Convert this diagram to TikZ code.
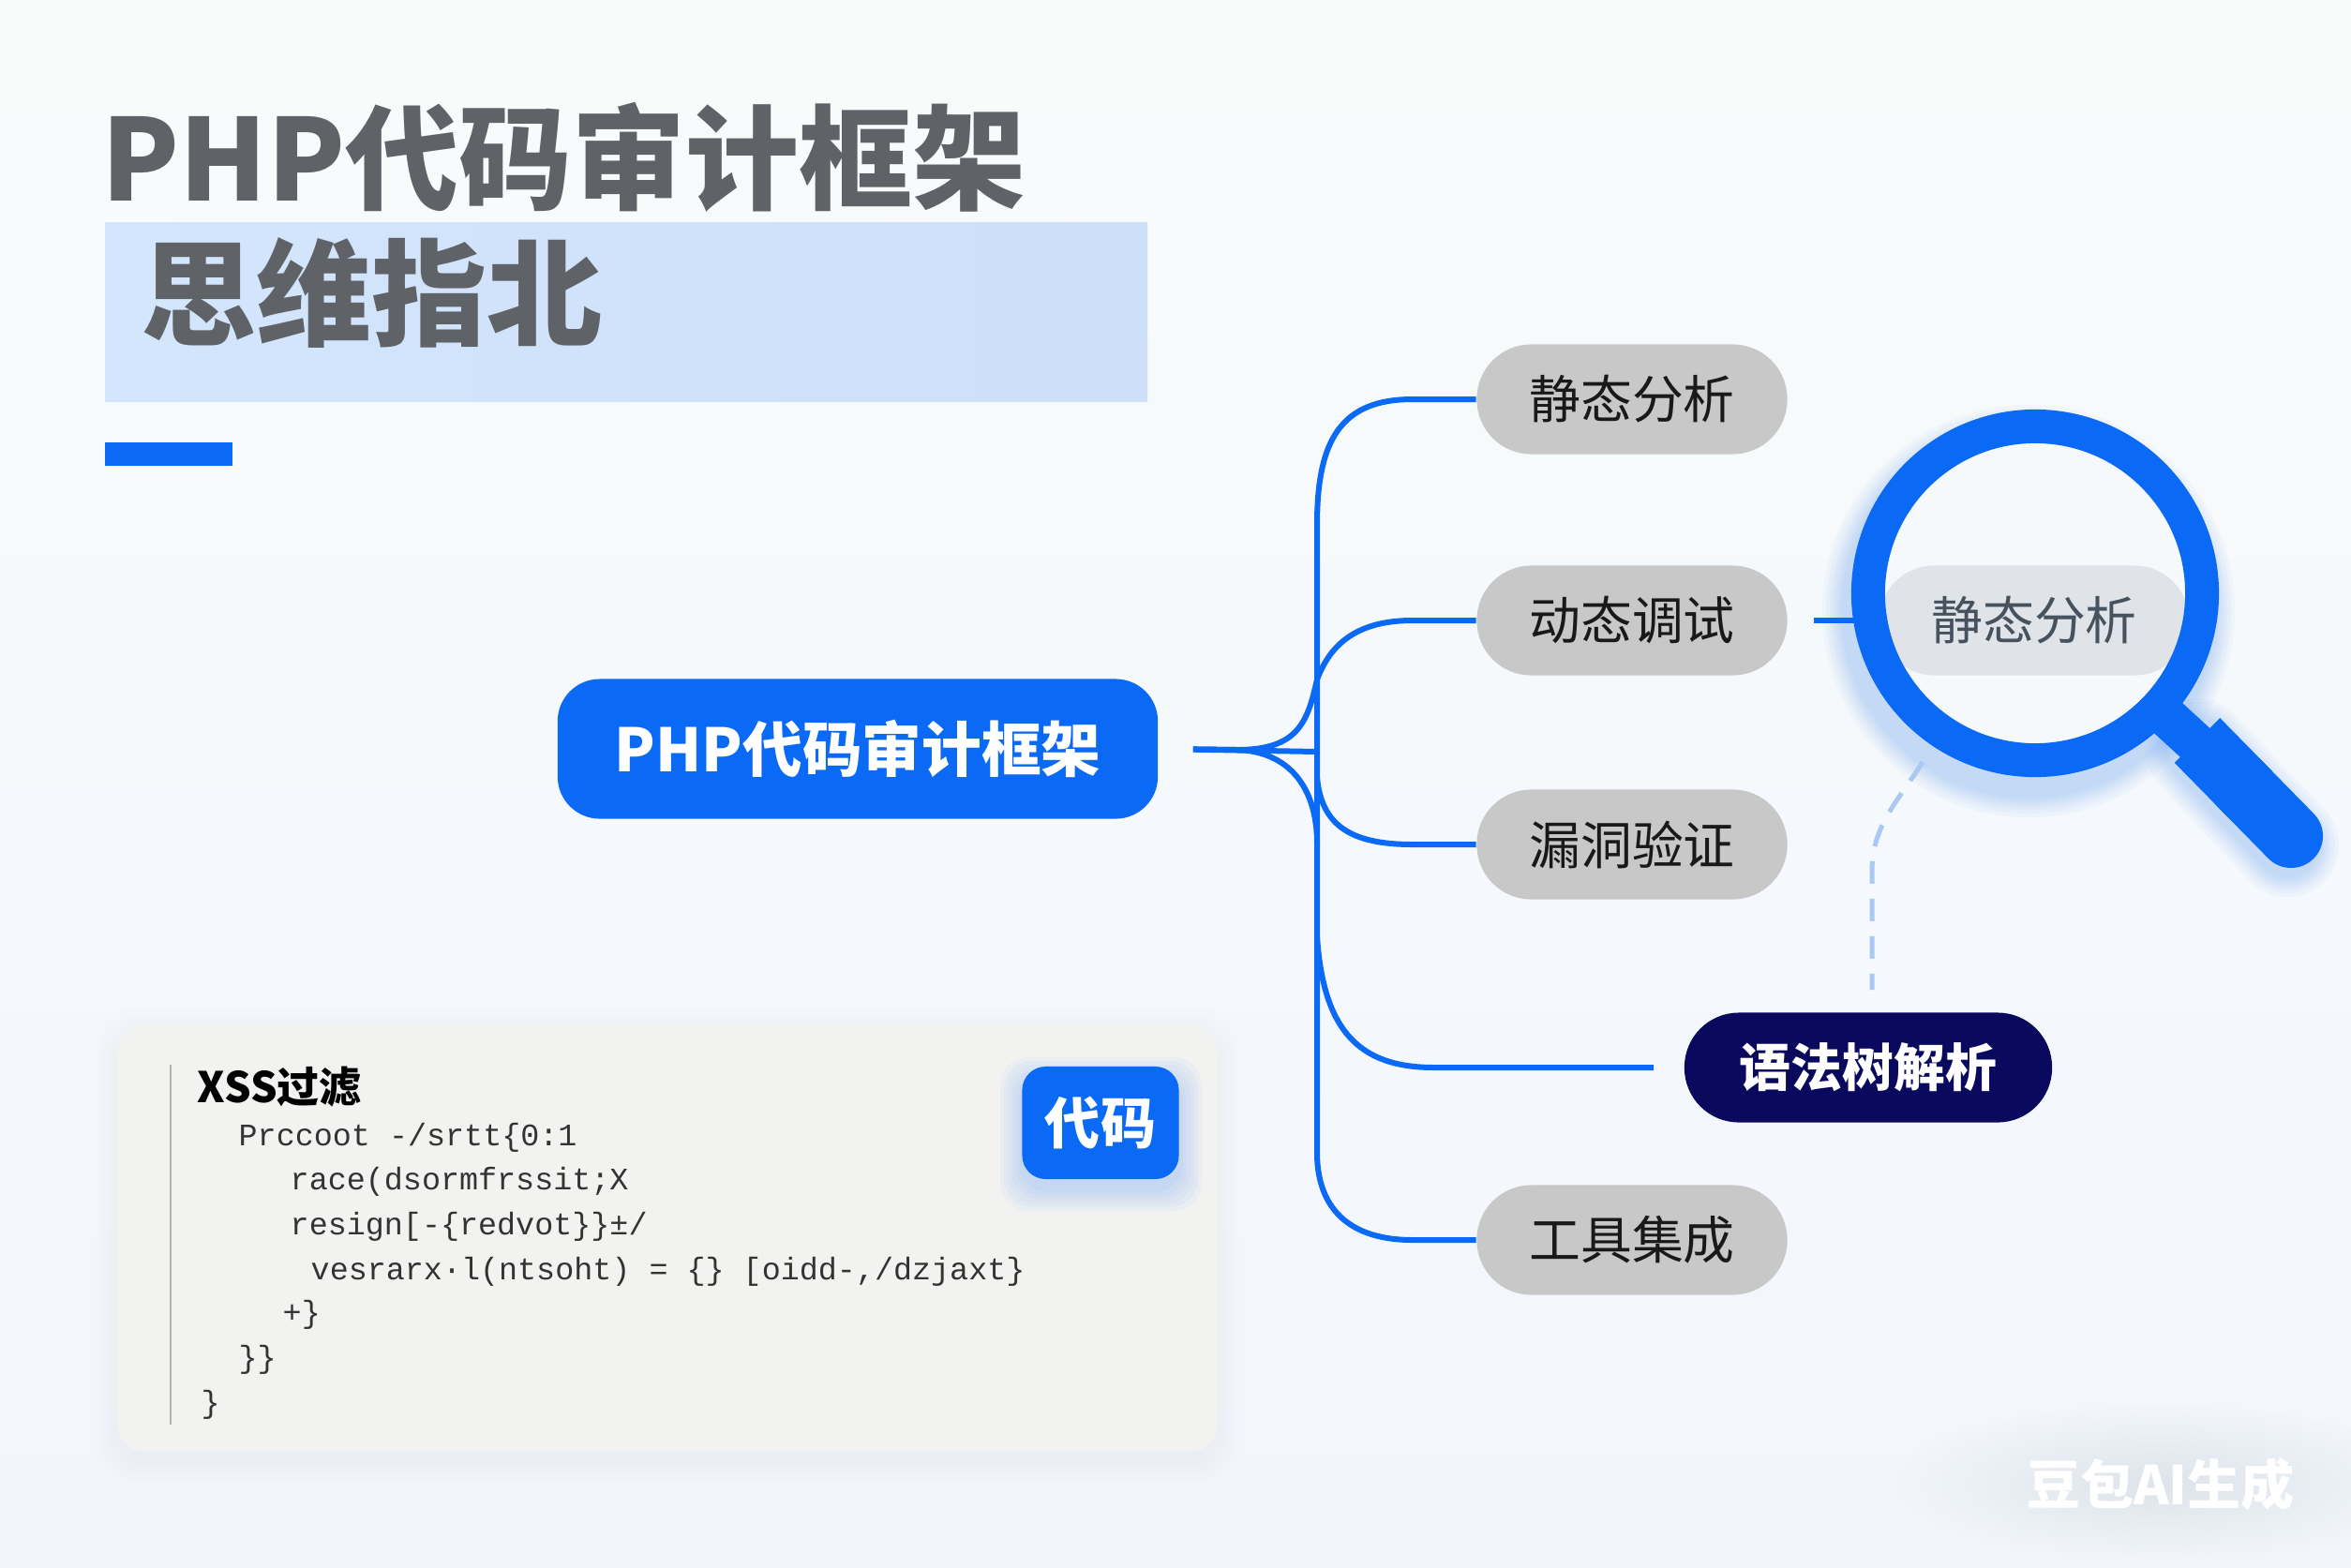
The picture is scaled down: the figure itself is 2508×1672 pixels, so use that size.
\documentclass[tikz,border=0pt]{standalone}
\usepackage{fontspec}
\setmainfont{Noto Sans CJK SC}
\newfontfamily\codefont{Liberation Mono}
\definecolor{accent}{HTML}{0A6AF5}
\definecolor{navy}{HTML}{09095E}
\definecolor{pillgrey}{HTML}{C8C8C9}
\definecolor{lenspill}{HTML}{E0E3E7}
\definecolor{lenstext}{HTML}{47525F}
\definecolor{titlegrey}{HTML}{5F6368}
\definecolor{softblue}{HTML}{D3E6FC}
\definecolor{softblueb}{HTML}{CDDFF9}
\definecolor{dashblue}{HTML}{A9C8F2}
\definecolor{cardgrey}{HTML}{F2F2F1}
\definecolor{bgtop}{HTML}{F9FBFB}
\definecolor{bgmid}{HTML}{F6F9FC}
\definecolor{bgbot}{HTML}{F2F6FC}
\definecolor{smudge}{HTML}{DDE3E9}
\tikzset{
  pill/.style={fill=pillgrey, text=black!90, rounded corners=0.58cm, minimum width=3.31cm, minimum height=1.17cm, inner sep=0pt, font=\fontsize{15.6}{18}\selectfont},
  branch/.style={draw=accent, line width=0.06cm},
  glow/.style={accent, opacity=0.03},
  bigtitle/.style={text=titlegrey, anchor=west, inner sep=0pt, font=\fontsize{34.4}{40}\selectfont\bfseries},
  codeline/.style={anchor=west, inner sep=0pt, text=black!80, font=\codefont\fontsize{9.5}{11}\selectfont}
}

\begin{document}
\begin{tikzpicture}[x=0.01cm, y=-0.01cm]
    \useasboundingbox (0,0) rectangle (2508,1672);
    \fill [top color=bgtop, middle color=bgmid, bottom color=bgbot] (0,0) rectangle (2508,1672);

    \fill [left color=softblue, right color=softblueb] (112,237) rectangle (1224,428);
    \fill [accent] (112,472) rectangle (248,497);
    \node [bigtitle] (title) at (108,168) {PHP代码审计框架};
    \node [bigtitle, font=\fontsize{35}{40}\selectfont\bfseries] (subtitle) at (150,312) {思维指北};

    \node [fill=accent, text=white, rounded corners=0.45cm, minimum width=6.4cm, minimum height=1.49cm, inner sep=0pt, font=\fontsize{18.1}{22}\selectfont\bfseries] (main) at (915,799) {PHP代码审计框架};

    \node [pill] (stat) at (1741,426) {静态分析};
    \node [pill] (dyn) at (1741,662) {动态调试};
    \node [pill] (vuln) at (1741,901) {漏洞验证};
    \node [pill] (tool) at (1741,1323) {工具集成};
    \node [pill, fill=navy, text=white, minimum width=3.92cm, font=\fontsize{15.6}{18}\selectfont\bfseries] (ast) at (1993,1139) {语法树解析};

    \foreach \w in {0.46,0.52,0.58,0.64,0.70,0.78,0.86} {
      \draw [glow, line width=\w cm] (2164,652) circle [radius=177];
      \draw [glow, line width=\w cm + 0.24cm, line cap=round] (2344,800) -- (2440,902);
    }
    \node [circle, fill=bgmid, minimum size=3.6cm, inner sep=0pt] (glass) at (2171,633) {};
    \node [pill, fill=lenspill, text=lenstext, minimum width=3.3cm] (zoomed) at (2170,662) {静态分析};

    \draw [branch] (stat.west) -- (1507,426) .. controls (1430,426) and (1405,470) .. (1405,560) -- (1405,1230) .. controls (1405,1280) and (1430,1323) .. (1507,1323) -- (tool.west);
    \draw [branch, shorten <=0.37cm] (main.east) -- (1320,800) .. controls (1385,800) and (1395,770) .. (1405,725) .. controls (1420,685) and (1450,662) .. (1507,662) -- (dyn.west);
    \draw [branch, shorten <=0.37cm] (main.east) -- (1320,800) .. controls (1375,802) and (1405,840) .. (1405,900);
    \draw [branch, shorten <=0.37cm] (main.east) -- (1405,802);
    \draw [branch] (vuln.west) -- (1507,901) .. controls (1440,901) and (1410,880) .. (1405,830);
    \draw [branch, shorten >=0.32cm] (1405,1000) .. controls (1412,1100) and (1450,1139) .. (1530,1139) -- (ast.west);
    \draw [branch, shorten <=0.28cm] (dyn.east) -- (zoomed.west);

    \coordinate (dashtop) at (2051,813);
    \coordinate (dashend) at (1997,1056);
    \draw [dashblue, line width=0.05cm, dash pattern=on 0.24cm off 0.16cm] (dashtop) .. controls (2025,855) and (1997,880) .. (1997,930) -- (dashend);

    \node [circle, draw=accent, line width=0.36cm, minimum size=3.56cm, inner sep=0pt] (lens) at (2171,633) {};
    \draw [accent, line width=0.44cm] (2290,745) -- (2350,800);
    \draw [accent, line width=0.68cm] (2344,790) -- (2400,847);
    \draw [accent, line width=0.68cm, line cap=round] (2390,837) -- (2444,892);

    \foreach \g in {3,6,9,12,15,18,21,24} {
      \fill [black, opacity=0.005, rounded corners=0.4cm] (125-\g,1094-\g+8) rectangle (1299+\g,1549+\g+8);
    }
    \node [fill=cardgrey, minimum width=11.74cm, minimum height=4.55cm, rounded corners=0.3cm] (card) at (712,1321) {};
    \coordinate (ruletop) at (182,1136);
    \coordinate (rulebot) at (182,1520);
    \draw [black!30, line width=0.02cm] (ruletop) -- (rulebot);
    \node [anchor=west, inner sep=0pt, text=black, font=\fontsize{12.8}{15}\selectfont\bfseries] (head) at (210,1160) {XSS过滤};
    \node [codeline] (l1) at (254,1214) {Prccoot -/srtt\{0:1};
    \node [codeline] (l2) at (309,1261) {race(dsormfrssit;X};
    \node [codeline] (l3) at (309,1309) {resign[-\{redvot\}\}±/};
    \node [codeline] (l4) at (331,1357) {vesrarx·l(ntsoht) = \{\} [oidd-,/dzjaxt\}};
    \node [codeline] (l5) at (301,1403) {+\}};
    \node [codeline] (l6) at (254,1451) {\}\}};
    \node [codeline] (l7) at (214,1499) {\}};

    \foreach \g in {4,8,12,16,20,24} {
      \fill [glow, rounded corners=0.3cm] (1091-\g,1138-\g+14) rectangle (1258+\g,1258+\g+10);
    }
    \node [fill=accent, text=white, rounded corners=0.25cm, minimum width=1.67cm, minimum height=1.2cm, inner sep=0pt, font=\fontsize{16.8}{20}\selectfont\bfseries] (badge) at (1174,1198) {代码};

    \shade [inner color=smudge, outer color=bgbot] (2305,1584) ellipse [x radius=290, y radius=85];
    \node [text=white, inner sep=0pt, font=\fontsize{16.2}{18}\selectfont\bfseries] (mark) at (2305,1584) {豆包AI生成};
\end{tikzpicture}
\end{document}
